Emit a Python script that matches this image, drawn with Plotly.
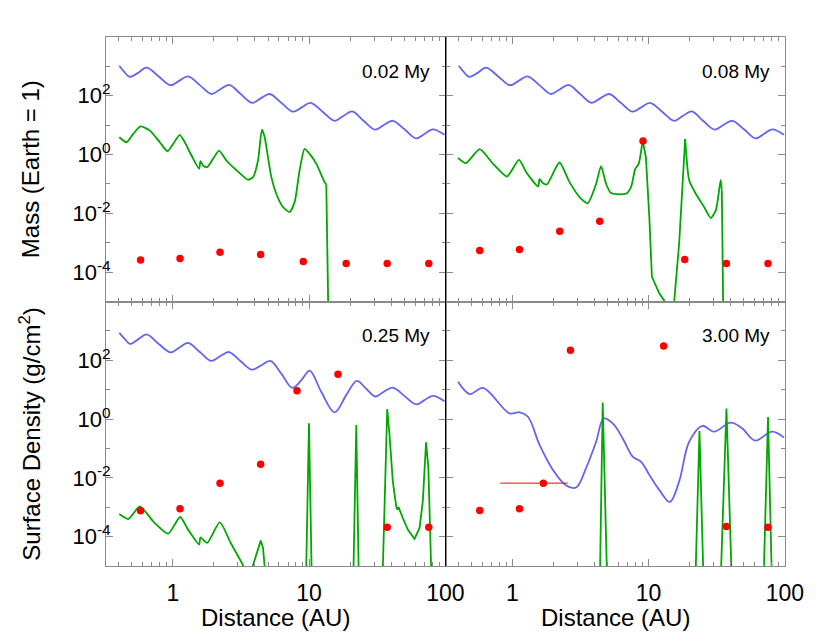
import plotly.graph_objects as go
from plotly.subplots import make_subplots

# ---------------- data ----------------
# gas surface density (blue), panels 0.02 My and 0.08 My (same profile)
gas_early_x = [0.405, 0.442, 0.484, 0.557, 0.641, 0.785, 0.962, 1.112, 1.294, 1.578,
               1.919, 2.223, 2.588, 3.133, 3.811, 4.416, 5.140, 6.252, 7.621, 8.810,
               10.26, 12.56, 15.38, 17.78, 20.70, 25.06, 30.55, 35.32, 41.11, 50.12,
               60.95, 70.15, 80.72, 98.4]
gas_early_y = [1047, 634, 437, 603, 912, 464, 229, 322, 457, 230,
               115, 164, 234, 117, 57.5, 81.3, 115, 57.9, 28.8, 40.3,
               57.5, 28.7, 14.1, 20.5, 29.5, 14.2, 7.08, 10.1, 14.1, 7.23,
               3.55, 5.02, 7.24, 4.68]

gas_025_x = [0.405, 0.442, 0.484, 0.557, 0.641, 0.785, 0.962, 1.112, 1.294, 1.578,
             1.919, 2.223, 2.588, 3.133, 3.811, 4.467, 5.200, 6.252, 7.534, 8.770,
             10.09, 12.27, 15.38, 18.71, 22.39, 26.24, 30.55, 35.32, 41.11, 50.12,
             60.95, 70.15, 80.72, 98.4]
gas_025_y = [851, 542, 363, 515, 759, 367, 186, 268, 389, 191,
             95.5, 137, 191, 94.8, 47.9, 67.8, 95.5, 35.3, 11.5, 21.0,
             44.7, 8.45, 1.70, 6.52, 20.0, 10.7, 5.86, 8.45, 11.8, 6.03,
             3.14, 4.41, 6.18, 4.07]

gas_300_x = [0.400, 0.488, 0.610, 0.955, 1.132, 1.303, 1.585, 1.986, 2.483, 2.938,
             3.475, 4.121, 4.688, 5.458, 6.457, 7.638, 8.790, 10.12, 11.97, 14.32,
             16.75, 19.86, 24.83, 30.20, 40.0, 48.75, 60.26, 80.72, 98.4]
gas_300_y = [18.6, 7.08, 11.5, 1.55, 1.70, 1.20, 0.132, 0.0186, 0.0055, 0.00468,
             0.0214, 0.170, 1.047, 0.708, 0.219, 0.0525, 0.0355, 0.0126, 0.00389, 0.00151,
             0.00759, 0.170, 0.589, 0.372, 0.759, 0.479, 0.186, 0.372, 0.234]

# solids (green)
dust_002_x = [0.405, 0.458, 0.512, 0.579, 0.679, 0.803, 0.914, 1.005, 1.125, 1.224,
              1.371, 1.560, 1.596, 1.667, 1.786, 1.972, 2.183, 2.472, 2.767, 3.097,
              3.565, 3.882, 4.217, 4.508, 4.721, 4.989, 5.284, 5.741, 6.427, 7.194,
              7.834, 8.511, 9.268, 10.09, 11.30, 13.00, 13.37, 13.90]
dust_002_y = [3.87, 2.62, 5.02, 9.12, 6.52, 2.62, 1.30, 2.30, 4.65, 2.62,
              0.925, 0.327, 0.594, 0.424, 0.372, 0.713, 1.37, 0.627, 0.372, 0.233,
              0.138, 0.171, 0.627, 7.03, 3.87, 0.813, 0.171, 0.0465, 0.0164, 0.0111,
              0.0242, 0.287, 1.56, 1.05, 0.483, 0.115, 0.0937, 1e-6]

dust_008_x = [0.400, 0.456, 0.577, 0.723, 0.914, 1.119, 1.265, 1.549, 1.585, 1.675,
              1.795, 2.218, 2.630, 3.112, 3.581, 4.121, 4.477, 4.875, 5.297, 6.823,
              7.430, 7.980, 8.453, 9.036, 9.550, 10.12, 10.57, 11.97, 13.03, 14.16,
              15.42, 16.75, 18.54, 19.86, 22.18, 25.53, 28.58, 31.12, 33.81, 34.43,
              35.40]
dust_008_y = [0.771, 0.508, 1.52, 0.483, 0.179, 0.659, 0.252, 0.0822, 0.146, 0.107,
              0.0962, 0.536, 0.115, 0.0358, 0.0224, 0.101, 0.403, 0.101, 0.0489, 0.0465,
              0.0782, 0.327, 0.483, 2.99, 0.813, 0.00752, 6.95e-5, 1.89e-5, 1.07e-5, 1e-6,
              1.07e-5, 9.38e-4, 3.40, 0.132, 0.0465, 0.0164, 0.00695, 0.0126, 0.138, 0.0603,
              1e-6]

dust_025_x = [0.405, 0.471, 0.573, 0.718, 0.925, 1.132, 1.294, 1.560, 1.596, 1.786,
              2.208, 2.618, 3.273, 3.565, 3.882, 4.102, 4.416, 4.592, 4.721, 6.43,
              9.528, 9.977, 10.42, 14.96, 21.18, 22.18, 23.07, 27.7, 34.75, 37.41,
              38.90, 41.11, 43.55, 44.46, 45.29, 48.64, 52.97, 59.29, 64.57, 68.23,
              72.11, 74.99, 78.52]
dust_025_y = [5.86e-4, 3.97e-4, 1.07e-3, 3.31e-4, 1.26e-4, 4.65e-4, 1.73e-4, 5.36e-5, 9.48e-5, 6.10e-5,
              3.06e-4, 6.95e-5, 1.07e-5, 1e-6, 1.07e-5, 2.45e-5, 7.31e-5, 4.13e-5, 9e-6, 1e-6,
              9e-6, 0.713, 9e-6, 1e-6, 9e-6, 0.627, 9e-6, 1e-6, 9e-6, 2.18,
              0.287, 7.52e-3, 1.07e-3, 8.22e-4, 1.01e-3, 4.30e-4, 1.73e-4, 8.34e-5, 1.97e-4, 1.58e-3,
              0.162, 0.0213, 9e-6]

dust_300_x = [0.40, 4.406, 4.606, 4.932, 12.0, 22.18, 23.61, 25.12, 30.0, 34.04,
              37.24, 40.46, 55.0, 70.15, 75.16, 79.80, 100.0]
dust_300_y = [1e-6, 9e-6, 3.67, 9e-6, 1e-6, 9e-6, 0.392, 9e-6, 1e-6, 9e-6,
              2.30, 9e-6, 1e-6, 9e-6, 1.17, 9e-6, 1e-6]

# planetary embryos (red dots)
emb_002_x = [0.58, 1.13, 2.22, 4.41, 9.06, 18.7, 37.4, 75.5]
emb_002_y = [2.6e-4, 2.9e-4, 4.7e-4, 4.0e-4, 2.3e-4, 1.95e-4, 1.95e-4, 1.95e-4]
emb_008_x = [0.577, 1.13, 2.23, 4.38, 9.1, 18.4, 37.2, 75.1]
emb_008_y = [5.4e-4, 5.9e-4, 2.45e-3, 5.4e-3, 2.9, 2.7e-4, 1.95e-4, 1.95e-4]
emb_025_x = [0.58, 1.13, 2.22, 4.41, 8.15, 16.3, 37.4, 75.5]
emb_025_y = [7.6e-4, 8.9e-4, 6.5e-3, 0.029, 9.1, 33.5, 2.1e-4, 2.1e-4]
emb_300_x = [0.577, 1.13, 1.69, 2.67, 12.9, 37.2, 75.1]
emb_300_y = [7.8e-4, 8.9e-4, 6.6e-3, 219, 307, 2.2e-4, 2.1e-4]
emb_300_err_plus = [0, 0, 0.86, 0, 0, 0, 0]
emb_300_err_minus = [0, 0, 0.873, 0, 0, 0, 0]

panel_labels = ["0.02 My", "0.08 My", "0.25 My", "3.00 My"]
x_tick_vals = [1, 10, 100]
x_tick_text = ["1", "10", "100"]
x_minor_vals = [0.4, 0.5, 0.6, 0.7, 0.8, 0.9, 2, 3, 4, 5, 6, 7, 8, 9,
                20, 30, 40, 50, 60, 70, 80, 90]
y_tick_vals = [1e-4, 1e-2, 1, 1e2]
y_tick_text = ["10<sup>-4</sup>", "10<sup>-2</sup>", "10<sup>0</sup>", "10<sup>2</sup>"]
y_minor_vals = [1e-3, 1e-1, 1e1, 1e3]

# ---------------- figure ----------------
BLUE = "#6464f0"
GREEN = "#00a800"
RED = "#ff0000"
FRAME = "#8a8a8a"
FONT = "Liberation Sans, Arial, Helvetica, sans-serif"

fig = make_subplots(rows=2, cols=2, horizontal_spacing=0, vertical_spacing=0)

# (row, col, gas x/y, dust x/y, list of (start, end, shape) pieces for the dust curve,
#  embryo x/y, error bars)
panels = [
    (1, 1, gas_early_x, gas_early_y, dust_002_x, dust_002_y,
     [(0, 37, "spline"), (36, 38, "linear")], emb_002_x, emb_002_y, None),
    (1, 2, gas_early_x, gas_early_y, dust_008_x, dust_008_y,
     [(0, 24, "spline"), (23, 33, "linear"), (32, 40, "spline"), (39, 41, "linear")],
     emb_008_x, emb_008_y, None),
    (2, 1, gas_025_x, gas_025_y, dust_025_x, dust_025_y,
     [(0, 12, "spline"), (11, 43, "linear")], emb_025_x, emb_025_y, None),
    (2, 2, gas_300_x, gas_300_y, dust_300_x, dust_300_y,
     [(0, 17, "linear")], emb_300_x, emb_300_y,
     (emb_300_err_plus, emb_300_err_minus)),
]

for r, c, gx, gy, dx, dy, pieces, ex, ey, err in panels:
    fig.add_trace(go.Scatter(x=gx, y=gy, mode="lines",
                             line=dict(color=BLUE, width=1.8, shape="spline", smoothing=1.0),
                             showlegend=False, hoverinfo="skip"), row=r, col=c)
    for a, b, shp in pieces:
        ln = dict(color=GREEN, width=1.8, shape=shp)
        if shp == "spline":
            ln["smoothing"] = 0.6
        fig.add_trace(go.Scatter(x=dx[a:b], y=dy[a:b], mode="lines", line=ln,
                                 showlegend=False, hoverinfo="skip"), row=r, col=c)
    kw = {}
    if err is not None:
        kw["error_x"] = dict(type="data", symmetric=False, array=err[0], arrayminus=err[1],
                             color=RED, thickness=1, width=0)
    fig.add_trace(go.Scatter(x=ex, y=ey, mode="markers",
                             marker=dict(color=RED, size=7.5, line=dict(width=0)),
                             showlegend=False, hoverinfo="skip", **kw), row=r, col=c)

for r in (1, 2):
    for c in (1, 2):
        fig.update_xaxes(type="log", range=[-0.49, 2.0005],
                         tickmode="array", tickvals=x_tick_vals, ticktext=x_tick_text,
                         showticklabels=(r == 2), ticklabelstandoff=6,
                         ticks="inside", ticklen=7, tickwidth=1, tickcolor=FRAME,
                         minor=dict(tickmode="array", tickvals=x_minor_vals, ticks="inside",
                                    ticklen=4, tickwidth=1, tickcolor=FRAME, showgrid=False),
                         showline=True, linecolor=FRAME, linewidth=1, mirror="ticks",
                         showgrid=False, zeroline=False,
                         tickfont=dict(family=FONT, size=23, color="black"),
                         row=r, col=c)
        fig.update_yaxes(type="log", range=[-5, 4],
                         tickmode="array", tickvals=y_tick_vals, ticktext=y_tick_text,
                         showticklabels=(c == 1), ticklabelstandoff=-10,
                         ticks="inside", ticklen=7, tickwidth=1, tickcolor=FRAME,
                         minor=dict(tickmode="array", tickvals=y_minor_vals, ticks="inside",
                                    ticklen=4, tickwidth=1, tickcolor=FRAME, showgrid=False),
                         showline=True, linecolor=FRAME, linewidth=1, mirror="ticks",
                         showgrid=False, zeroline=False,
                         tickfont=dict(family=FONT, size=22, color="black"),
                         row=r, col=c)

annotations = []
label_pos = [(0.4801, 0.9357), (0.981, 0.9357), (0.4801, 0.4348), (0.981, 0.4348)]
for txt, (ax, ay) in zip(panel_labels, label_pos):
    annotations.append(dict(text=txt, x=ax, y=ay, xref="paper", yref="paper",
                            xanchor="right", yanchor="middle", showarrow=False,
                            font=dict(family=FONT, size=19, color="black")))
annotations.append(dict(text="Mass (Earth = 1)", x=-0.112, y=0.75, xref="paper", yref="paper",
                        textangle=-90, showarrow=False, xanchor="center", yanchor="middle",
                        font=dict(family=FONT, size=24, color="black")))
annotations.append(dict(text="Surface Density (g/cm<sup>2</sup>)", x=-0.112, y=0.25,
                        xref="paper", yref="paper", textangle=-90, showarrow=False,
                        xanchor="center", yanchor="middle",
                        font=dict(family=FONT, size=24, color="black")))
for ax in (0.25, 0.75):
    annotations.append(dict(text="Distance (AU)", x=ax, y=-0.0974, xref="paper", yref="paper",
                            showarrow=False, xanchor="center", yanchor="middle",
                            font=dict(family=FONT, size=24, color="black")))

fig.update_layout(
    width=830, height=642,
    margin=dict(l=98, r=53, t=29, b=84),
    paper_bgcolor="white", plot_bgcolor="white",
    annotations=annotations,
    shapes=[dict(type="line", xref="paper", yref="paper", x0=0.5, x1=0.5, y0=0, y1=1,
                 line=dict(color="black", width=1))],
    font=dict(family=FONT, color="black"),
)

fig.write_html("out.html")
